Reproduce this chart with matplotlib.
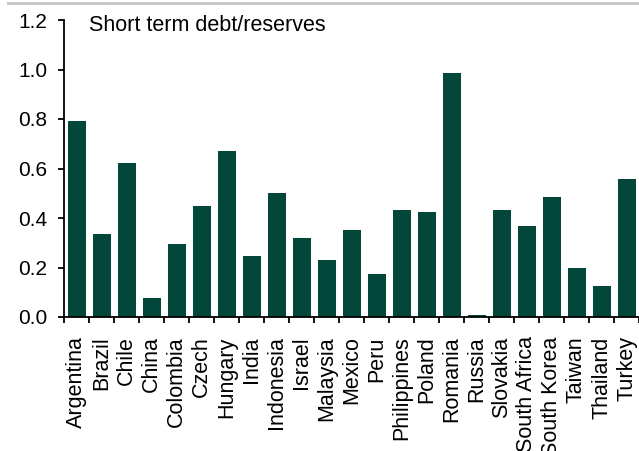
import matplotlib
matplotlib.use('Agg')
import matplotlib.pyplot as plt
from matplotlib.lines import Line2D
import numpy as np

countries = ['Argentina', 'Brazil', 'Chile', 'China', 'Colombia', 'Czech', 'Hungary',
             'India', 'Indonesia', 'Israel', 'Malaysia', 'Mexico', 'Peru', 'Philippines',
             'Poland', 'Romania', 'Russia', 'Slovakia', 'South Africa', 'South Korea',
             'Taiwan', 'Thailand', 'Turkey']
debt_reserves = [0.79, 0.335, 0.622, 0.077, 0.295, 0.448, 0.671,
                 0.246, 0.501, 0.319, 0.230, 0.352, 0.174, 0.432,
                 0.424, 0.986, 0.01, 0.432, 0.368, 0.485,
                 0.198, 0.125, 0.558]
yticks = [0.0, 0.2, 0.4, 0.6, 0.8, 1.0, 1.2]

plt.rcParams['font.family'] = ['Liberation Sans', 'DejaVu Sans']

fig = plt.figure(figsize=(6.39, 4.51), dpi=100)
ax = fig.add_axes([64 / 639, 1 - 317 / 451, 1 - 64 / 639, 297 / 451])

x = np.arange(len(countries))
ax.bar(x, debt_reserves, width=0.72, color='#02473a')

ax.set_xlim(-0.5, len(countries) - 0.5)
ax.set_ylim(0, 1.2)
ax.set_yticks(yticks)
ax.set_yticklabels([f'{v:.1f}' for v in yticks], fontsize=15)
ax.set_xticks(x)
ax.set_xticklabels(countries, rotation=90, fontsize=15.5)
ax.set_xticks(np.arange(len(countries) + 1) - 0.5, minor=True)
ax.tick_params(axis='x', which='major', length=0, pad=14)
ax.tick_params(axis='x', which='minor', length=4, width=1.3, direction='out')
ax.tick_params(axis='y', length=4, width=1.3, pad=8)

for s in ['top', 'right']:
    ax.spines[s].set_visible(False)
for s in ['left', 'bottom']:
    ax.spines[s].set_linewidth(1.3)

fig.text(89 / 639, 1 - 31 / 451, 'Short term debt/reserves', fontsize=15.5, va='baseline', ha='left')
fig.add_artist(Line2D([8 / 639, 1], [1 - 3 / 451, 1 - 3 / 451], color='#c4c4c4', lw=2))

fig.savefig('out.png', dpi=100)
